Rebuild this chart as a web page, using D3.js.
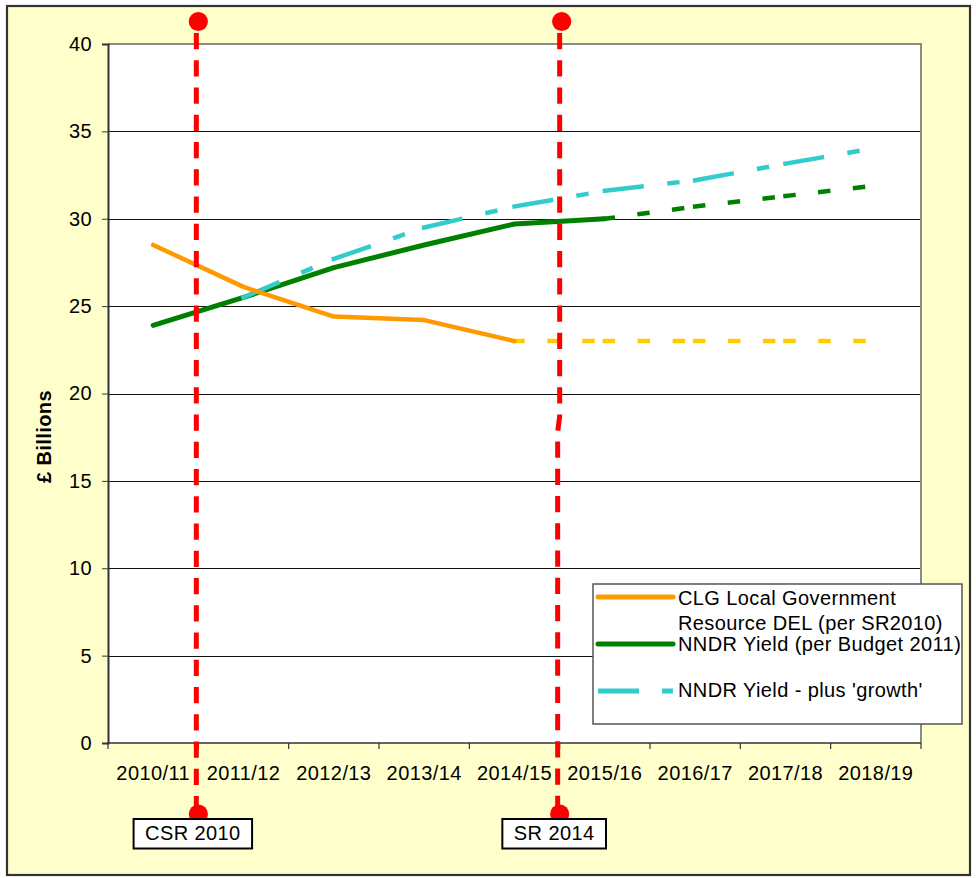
<!DOCTYPE html>
<html>
<head>
<meta charset="utf-8">
<script src="https://cdn.jsdelivr.net/npm/d3@7"></script>
<style>
  html, body { margin: 0; padding: 0; background: #ffffff; }
  svg { display: block; }
  text { font-family: "Liberation Sans", Arial, Helvetica, sans-serif; fill: #000; letter-spacing: 0.4px; }
</style>
</head>
<body>
<svg id="chart" width="976" height="878"></svg>
<script>
// ---- data -------------------------------------------------------------
const categories = ['2010/11', '2011/12', '2012/13', '2013/14', '2014/15',
                    '2015/16', '2016/17', '2017/18', '2018/19'];
const yTicks = [0, 5, 10, 15, 20, 25, 30, 35, 40];

// CLG Local Government Resource DEL (per SR2010), £bn
const clgYears = categories.slice(0, 5);
const clgValues = [28.5, 26.1, 24.4, 24.2, 23.0];
// CLG resource DEL held flat beyond the spending review period
const clgProjYears = categories.slice(4);
const clgProjValues = [23.0, 23.0, 23.0, 23.0, 23.0];

// NNDR yield (per Budget 2011), £bn
const nndrYears = categories.slice(0, 6);
const nndrValues = [23.9, 25.5, 27.2, 28.5, 29.7, 30.0];
const nndrProjYears = categories.slice(5);
const nndrProjValues = [30.0, 30.7, 31.3, 31.9];

// NNDR yield plus 'growth', £bn
const growthYears = categories.slice(1);
const growthValues = [25.5, 27.7, 29.5, 30.7, 31.6, 32.2, 33.15, 34.05];

const legendLabels = [
  ['CLG Local Government', 'Resource DEL (per SR2010)'],
  ['NNDR Yield (per Budget 2011)'],
  ["NNDR Yield - plus 'growth'"]
];
const markerLabels = ['CSR 2010', 'SR 2014'];
const markerYears = ['2011/12', '2015/16'];
const yTitle = '£ Billions';

// ---- layout -----------------------------------------------------------
const W = 976, H = 878;
const plot = { left: 108, right: 921, top: 44, bottom: 743 };
const colors = {
  bg: '#FFFFCC', orange: '#FF9900', yellow: '#FFCC00',
  green: '#008000', cyan: '#33CCCC', red: '#FF0000'
};
const font = 20;

const svg = d3.select('#chart');

const x = d3.scaleBand().domain(categories).range([plot.left, plot.right]).padding(0);
const cx = c => x(c) + x.bandwidth() / 2;
const y = d3.scaleLinear().domain([0, 40]).range([plot.bottom, plot.top]);

// chart background and outer frame
svg.append('rect')
  .attr('x', 7).attr('y', 6).attr('width', 963).attr('height', 869)
  .attr('fill', colors.bg).attr('stroke', '#333').attr('stroke-width', 2.2);

// plot area
svg.append('rect')
  .attr('x', plot.left).attr('y', plot.top)
  .attr('width', plot.right - plot.left).attr('height', plot.bottom - plot.top)
  .attr('fill', '#fff');

// horizontal gridlines
svg.append('g').selectAll('line')
  .data(yTicks.filter(t => t > 0 && t < 40))
  .join('line')
  .attr('x1', plot.left).attr('x2', plot.right)
  .attr('y1', d => Math.round(y(d)) + 0.5).attr('y2', d => Math.round(y(d)) + 0.5)
  .attr('stroke', '#111').attr('stroke-width', 1);

// plot area frame (top and right)
svg.append('path')
  .attr('d', `M${plot.left},${plot.top}H${plot.right}V${plot.bottom}`)
  .attr('fill', 'none').attr('stroke', '#8a8a8a').attr('stroke-width', 2);

// ---- axes ---------------------------------------------------------------
const yAxis = svg.append('g')
  .attr('transform', `translate(${plot.left},0)`)
  .call(d3.axisLeft(y).tickValues(yTicks).tickSize(6).tickPadding(10).tickFormat(d3.format('d')));
yAxis.select('.domain').attr('stroke', '#333').attr('stroke-width', 2);
yAxis.selectAll('.tick line').attr('stroke', '#333');
yAxis.selectAll('.tick text').attr('font-size', font).attr('font-family', null);

const xAxis = svg.append('g')
  .attr('transform', `translate(0,${plot.bottom})`)
  .call(d3.axisBottom(x).tickSize(0).tickPadding(23));
xAxis.select('.domain').remove();
xAxis.selectAll('.tick text').attr('font-size', font).attr('font-family', null);

svg.append('line')
  .attr('x1', plot.left - 1).attr('x2', plot.right)
  .attr('y1', plot.bottom).attr('y2', plot.bottom)
  .attr('stroke', '#333').attr('stroke-width', 1.5);

// category boundary ticks
const boundaries = categories.map(c => x(c)).concat([plot.right]);
svg.append('g').selectAll('line')
  .data(boundaries)
  .join('line')
  .attr('x1', d => d).attr('x2', d => d)
  .attr('y1', plot.bottom).attr('y2', plot.bottom + 6)
  .attr('stroke', '#333').attr('stroke-width', 1.2);

// y axis title
svg.append('text')
  .attr('transform', `translate(51,${(plot.top + plot.bottom) / 2 + 43}) rotate(-90)`)
  .attr('text-anchor', 'middle')
  .attr('font-size', font).attr('font-weight', 'bold')
  .text(yTitle);

// ---- series -------------------------------------------------------------
const zip = (cats, vals) => cats.map((c, i) => ({ c, v: vals[i] }));
const line = d3.line().x(d => cx(d.c)).y(d => y(d.v));
const series = svg.append('g');

// dashed series: each segment restarts its dash pattern
function dashedSeries(pts, color, dash, width) {
  const segs = d3.pairs(pts);
  series.append('g').selectAll('path')
    .data(segs)
    .join('path')
    .attr('d', d => line(d))
    .attr('fill', 'none')
    .attr('stroke', color)
    .attr('stroke-width', width)
    .attr('stroke-linecap', 'square')
    .attr('stroke-dasharray', dash);
}
function solidSeries(pts, color, width) {
  series.append('path')
    .attr('d', line(pts))
    .attr('fill', 'none')
    .attr('stroke', color)
    .attr('stroke-width', width)
    .attr('stroke-linejoin', 'round')
    .attr('stroke-linecap', 'round');
}

solidSeries(zip(nndrYears, nndrValues), colors.green, 5);
dashedSeries(zip(nndrProjYears, nndrProjValues), colors.green, '8,27', 4.5);
dashedSeries(zip(growthYears, growthValues), colors.cyan, '37,28,8,40', 4.5);
dashedSeries(zip(clgProjYears, clgProjValues), colors.yellow, '8,27', 4.5);
solidSeries(zip(clgYears, clgValues), colors.orange, 4.5);

// ---- legend ---------------------------------------------------------------
const lg = svg.append('g');
lg.append('rect')
  .attr('x', 593).attr('y', 584).attr('width', 369).attr('height', 140)
  .attr('fill', '#fff').attr('stroke', '#555').attr('stroke-width', 1.5);

const legendRows = [
  { color: colors.orange, ly: 597, baselines: [605, 630], dash: null },
  { color: colors.green, ly: 644, baselines: [650.5], dash: null },
  { color: colors.cyan, ly: 691, baselines: [697], dash: '41,23,11,40' }
];
legendRows.forEach((r, i) => {
  lg.append('line')
    .attr('x1', 598).attr('x2', 673).attr('y1', r.ly).attr('y2', r.ly)
    .attr('stroke', r.color).attr('stroke-width', 5)
    .attr('stroke-linecap', r.dash ? 'butt' : 'round')
    .attr('stroke-dasharray', r.dash);
  legendLabels[i].forEach((t, j) => {
    lg.append('text')
      .attr('x', 678).attr('y', r.baselines[j])
      .attr('font-size', font)
      .text(t);
  });
});

// ---- spending review markers -------------------------------------------
const mk = svg.append('g');
const lineTop = 21, lineBottom = 813;
const markerDefs = markerYears.map((yr, i) => {
  const bx = x(yr);
  // the second marker has a small jog part-way down
  const topX = i === 0 ? bx - 2 : bx;
  const botX = bx - 2;
  return { label: markerLabels[i], topX, botX, jog: i === 1 };
});

markerDefs.forEach(m => {
  const d = m.jog
    ? `M${m.topX},${lineTop}V${y(18.7)}L${m.botX},${y(17.8)}V${lineBottom}`
    : `M${m.topX},${lineTop}V${lineBottom}`;
  mk.append('path')
    .attr('d', d)
    .attr('fill', 'none')
    .attr('stroke', colors.red).attr('stroke-width', 5)
    .attr('stroke-dasharray', '16.25,11')
    .attr('stroke-dashoffset', 15.25);
  mk.append('circle').attr('cx', m.topX + 2).attr('cy', 21.5).attr('r', 9.6).attr('fill', colors.red);
  mk.append('circle').attr('cx', m.botX + 2).attr('cy', 814).attr('r', 9.6).attr('fill', colors.red);

  const g = mk.append('g');
  const box = g.append('rect');
  const t = g.append('text')
    .attr('x', m.botX - 3.5).attr('y', 839.5)
    .attr('text-anchor', 'middle')
    .attr('font-size', font)
    .text(m.label);
  const tw = t.node().getComputedTextLength();
  box.attr('x', m.botX - 3.5 - tw / 2 - 11.5).attr('y', 819)
    .attr('width', tw + 23).attr('height', 29.5)
    .attr('fill', '#fff').attr('stroke', '#000').attr('stroke-width', 2);
});
</script>
</body>
</html>
